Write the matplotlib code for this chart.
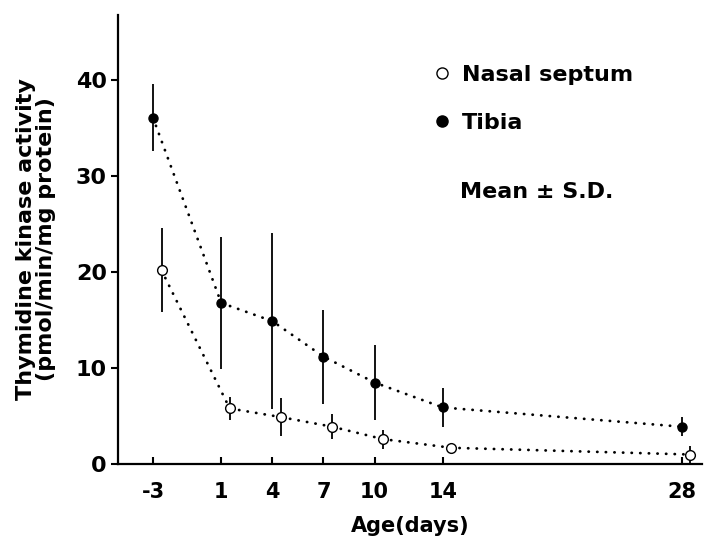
import matplotlib.pyplot as plt
from matplotlib.lines import Line2D

# age in days (nasal septum points are drawn a little to the right in the original)
ages = [-3, 1, 4, 7, 10, 14, 28]
age_ticks = [-3, 1, 4, 7, 10, 14, 28]
nasal_shift = 0.5

tibia_mean = [36.1, 16.8, 14.9, 11.2, 8.5, 5.9, 3.9]
tibia_sd = [3.5, 6.9, 9.2, 4.9, 3.9, 2.0, 1.0]

nasal_mean = [20.2, 5.8, 4.9, 3.9, 2.6, 1.7, 1.0]
nasal_sd = [4.4, 1.2, 2.0, 1.3, 1.0, 0.4, 0.9]

plt.rcParams['font.family'] = 'DejaVu Sans'
plt.rcParams['font.weight'] = 'bold'

fig = plt.figure(figsize=(7.08, 5.46), dpi=100)
ax = fig.add_axes([0.1667, 0.150, 0.8248, 0.8225])

nasal_x = [a + nasal_shift for a in ages]

# dotted connecting lines
dots = (0, (0.1, 3.0))
ax.plot(ages, tibia_mean, color='black', lw=2.0, linestyle=dots,
        dash_capstyle='round', zorder=1)
ax.plot(nasal_x, nasal_mean, color='black', lw=2.0, linestyle=dots,
        dash_capstyle='round', zorder=1)

# error bars + markers
ax.errorbar(ages, tibia_mean, yerr=tibia_sd, fmt='o', color='black', ms=6.5,
            mfc='black', mec='black', elinewidth=1.3, capsize=0, zorder=3)
ax.errorbar(nasal_x, nasal_mean, yerr=nasal_sd, fmt='o', color='black', ms=7,
            mfc='white', mec='black', mew=1.0, elinewidth=1.3, capsize=0, zorder=3)

ax.set_xlim(-5.05, 29.2)
ax.set_ylim(0, 46.8)
ax.set_xticks(age_ticks)
ax.set_xticklabels([str(a) for a in age_ticks])
ax.set_yticks([0, 10, 20, 30, 40])

for side in ['top', 'right']:
    ax.spines[side].set_visible(False)
ax.spines['left'].set_linewidth(1.6)
ax.spines['bottom'].set_linewidth(1.6)

ax.tick_params(axis='x', direction='in', length=5, width=1.5, labelsize=15, pad=13)
ax.tick_params(axis='y', direction='out', length=5, width=1.5, labelsize=16, pad=3)

ax.set_xlabel('Age(days)', fontsize=15, fontweight='bold', labelpad=10)
ax.set_ylabel('Thymidine kinase activity\n(pmol/min/mg protein)', fontsize=16,
              fontweight='bold', linespacing=1.05, labelpad=14)

handles = [
    Line2D([], [], marker='o', ls='none', ms=8, mfc='white', mec='black', mew=1.0),
    Line2D([], [], marker='o', ls='none', ms=8, mfc='black', mec='black'),
]
ax.legend(handles, ['Nasal septum', 'Tibia'], loc='upper left',
          bbox_to_anchor=(0.505, 0.933), frameon=False, handlelength=0.8,
          handletextpad=0.5, labelspacing=1.25,
          prop={'weight': 'bold', 'size': 16})

fig.text(0.65, 1 - 192 / 546, 'Mean ± S.D.', fontsize=16,
         fontweight='bold', va='center')

fig.savefig('out.png', dpi=100)
